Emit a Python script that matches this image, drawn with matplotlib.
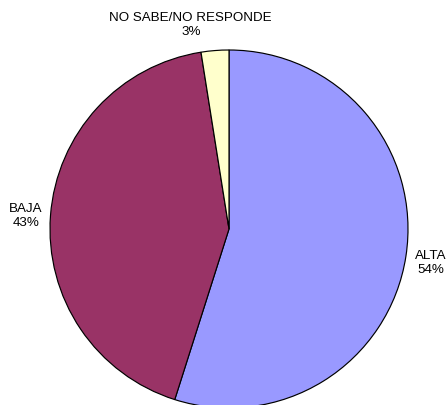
import numpy as np
import matplotlib
matplotlib.use("Agg")
import matplotlib.pyplot as plt

categories = ["ALTA", "BAJA", "NO SABE/NO RESPONDE"]
values = [54.9, 42.6, 2.5]
pct_labels = ["54%", "43%", "3%"]
colors = ["#9999FF", "#993366", "#FFFFCC"]

W, H = 448, 405
fig = plt.figure(figsize=(W / 100, H / 100), dpi=100)
ax = fig.add_axes([0, 0, 1, 1])

cx, cy, R = 229, H - 229, 179
wedges, _ = ax.pie(values, colors=colors, startangle=90, counterclock=False,
                   center=(cx, cy), radius=R, frame=True,
                   wedgeprops=dict(edgecolor="black", linewidth=0.85))
ax.set_xlim(0, W)
ax.set_ylim(0, H)
ax.set_aspect("equal")
ax.axis("off")

dists = [1.14, 1.137, 1.157]
xshift = [0, 0, -22]
for w, cat, p, d, xs in zip(wedges, categories, pct_labels, dists, xshift):
    ang = np.deg2rad((w.theta1 + w.theta2) / 2)
    x = cx + d * R * np.cos(ang) + xs
    y = cy + d * R * np.sin(ang) - 2.5
    ax.text(x, y, f"{cat}\n{p}", ha="center", va="center",
            fontsize=9.6, family=["Liberation Sans", "DejaVu Sans"], linespacing=1.25)

fig.savefig("out.png", dpi=100, facecolor="white")
